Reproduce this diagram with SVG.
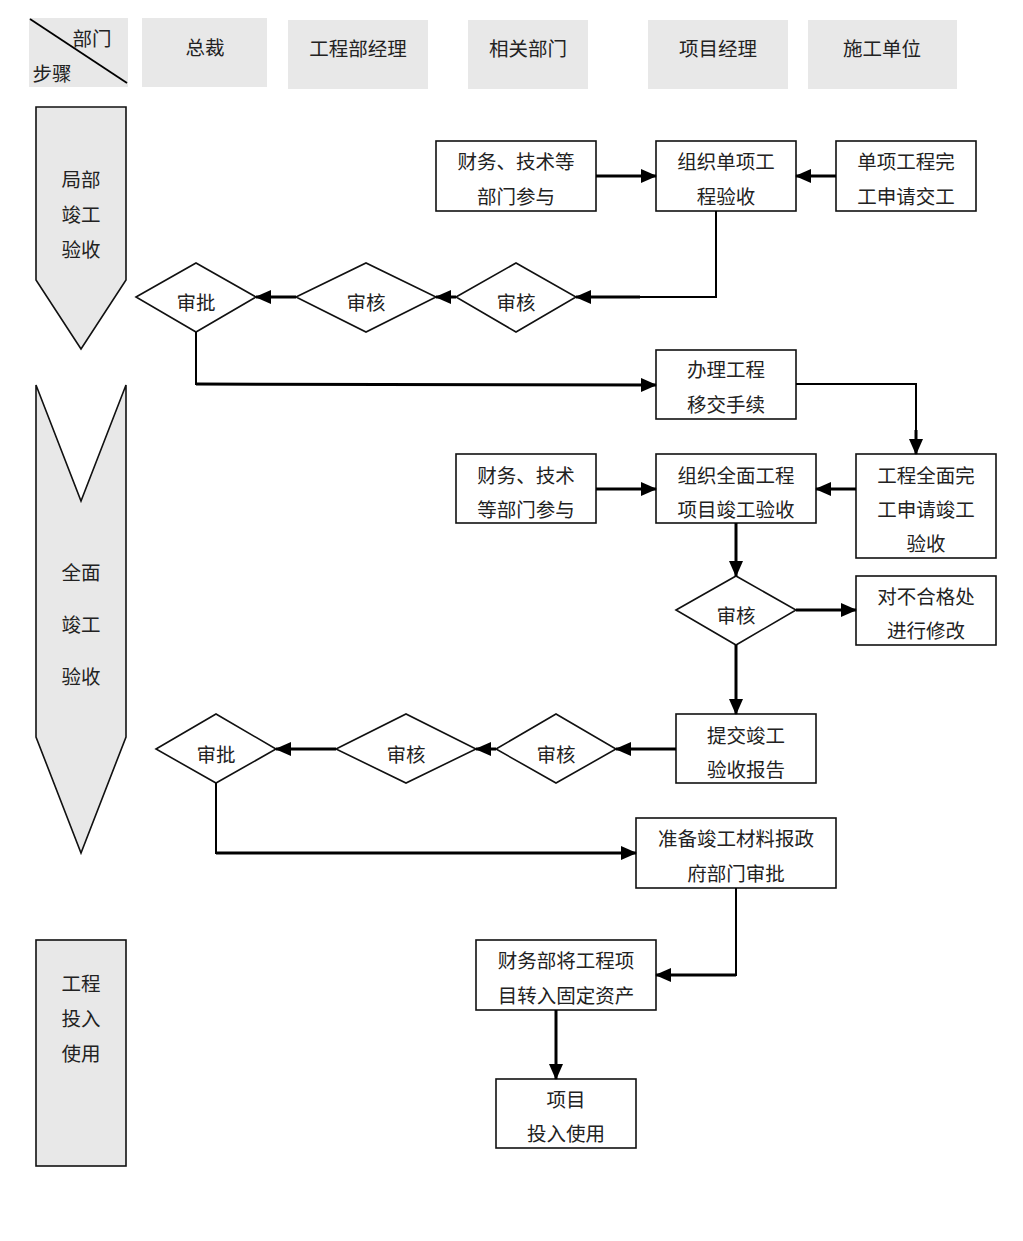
<svg xmlns="http://www.w3.org/2000/svg" width="1023" height="1241" viewBox="0 0 1023 1241">
<defs>
<style>
text{font-family:"Liberation Serif","Noto Sans CJK SC",serif;font-size:19.5px;fill:#222;text-anchor:middle;dominant-baseline:central}
.hd{fill:#e8e8e8;stroke:none}
.lane{fill:#e8e8e8;stroke:#111;stroke-width:1.6}
.box{fill:#fff;stroke:#111;stroke-width:1.6}
.con{fill:none;stroke:#000;stroke-width:3}
.thin{fill:none;stroke:#000;stroke-width:2}
</style>
<marker id="ah" markerUnits="userSpaceOnUse" markerWidth="16" markerHeight="14" refX="15" refY="7" orient="auto">
<path d="M0,0 L16,7 L0,14 Z" fill="#000"/>
</marker>
</defs>
<rect width="1023" height="1241" fill="#fff"/>

<g id="header">
<rect class="hd" x="29" y="18" width="99" height="69"/>
<line x1="30" y1="19" x2="127" y2="83" stroke="#000" stroke-width="1.8"/>
<text x="92" y="39">部门</text>
<text x="52" y="74">步骤</text>
<rect class="hd" x="142" y="18" width="125" height="69"/>
<text x="205" y="48">总裁</text>
<rect class="hd" x="288" y="20" width="140" height="69"/>
<text x="358" y="49">工程部经理</text>
<rect class="hd" x="468" y="20" width="120" height="69"/>
<text x="528" y="49">相关部门</text>
<rect class="hd" x="648" y="20" width="140" height="69"/>
<text x="718" y="49">项目经理</text>
<rect class="hd" x="808" y="20" width="149" height="69"/>
<text x="882" y="49">施工单位</text>
</g>

<g id="lane1">
<polygon class="lane" points="36,107 126,107 126,280 81,349 36,280"/>
<text x="81" y="180">局部</text>
<text x="81" y="215">竣工</text>
<text x="81" y="250">验收</text>
</g>
<g id="lane2">
<polygon class="lane" points="36,385 81,501 126,385 126,737 81,853 36,737"/>
<text x="81" y="573">全面</text>
<text x="81" y="625">竣工</text>
<text x="81" y="677">验收</text>
</g>
<g id="lane3">
<rect class="lane" x="36" y="940" width="90" height="226"/>
<text x="81" y="984">工程</text>
<text x="81" y="1019">投入</text>
<text x="81" y="1054">使用</text>
</g>

<g id="n_fin1">
<rect class="box" x="436" y="141" width="160" height="70"/>
<text x="516" y="162">财务、技术等</text>
<text x="516" y="197">部门参与</text>
</g>
<g id="n_org1">
<rect class="box" x="656" y="141" width="140" height="70"/>
<text x="726" y="162">组织单项工</text>
<text x="726" y="197">程验收</text>
</g>
<g id="n_apply1">
<rect class="box" x="836" y="141" width="140" height="70"/>
<text x="906" y="162">单项工程完</text>
<text x="906" y="197">工申请交工</text>
</g>
<g id="d_sp1">
<polygon class="box" points="136,297 196,263 256,297 196,332"/>
<text x="196" y="303">审批</text>
</g>
<g id="d_sh1">
<polygon class="box" points="296,297 366,263 436,297 366,332"/>
<text x="366" y="303">审核</text>
</g>
<g id="d_sh2">
<polygon class="box" points="456,297 516,263 576,297 516,332"/>
<text x="516" y="303">审核</text>
</g>
<g id="n_transfer">
<rect class="box" x="656" y="350" width="140" height="69"/>
<text x="726" y="370">办理工程</text>
<text x="726" y="405">移交手续</text>
</g>
<g id="n_apply2">
<rect class="box" x="856" y="454" width="140" height="104"/>
<text x="926" y="476">工程全面完</text>
<text x="926" y="510">工申请竣工</text>
<text x="926" y="544">验收</text>
</g>
<g id="n_fin2">
<rect class="box" x="456" y="454" width="140" height="69"/>
<text x="526" y="476">财务、技术</text>
<text x="526" y="510">等部门参与</text>
</g>
<g id="n_org2">
<rect class="box" x="656" y="454" width="160" height="69"/>
<text x="736" y="476">组织全面工程</text>
<text x="736" y="510">项目竣工验收</text>
</g>
<g id="d_sh3">
<polygon class="box" points="676,610 736,576 796,610 736,645"/>
<text x="736" y="616">审核</text>
</g>
<g id="n_fix">
<rect class="box" x="856" y="576" width="140" height="69"/>
<text x="926" y="597">对不合格处</text>
<text x="926" y="631">进行修改</text>
</g>
<g id="n_report">
<rect class="box" x="676" y="714" width="140" height="69"/>
<text x="746" y="736">提交竣工</text>
<text x="746" y="770">验收报告</text>
</g>
<g id="d_sh4">
<polygon class="box" points="496,749 556,714 616,749 556,783"/>
<text x="556" y="755">审核</text>
</g>
<g id="d_sh5">
<polygon class="box" points="336,749 406,714 476,749 406,783"/>
<text x="406" y="755">审核</text>
</g>
<g id="d_sp2">
<polygon class="box" points="156,749 216,714 276,749 216,783"/>
<text x="216" y="755">审批</text>
</g>
<g id="n_gov">
<rect class="box" x="636" y="818" width="200" height="70"/>
<text x="736" y="839">准备竣工材料报政</text>
<text x="736" y="874">府部门审批</text>
</g>
<g id="n_asset">
<rect class="box" x="476" y="940" width="180" height="70"/>
<text x="566" y="961">财务部将工程项</text>
<text x="566" y="996">目转入固定资产</text>
</g>
<g id="n_use">
<rect class="box" x="496" y="1079" width="140" height="69"/>
<text x="566" y="1100">项目</text>
<text x="566" y="1134">投入使用</text>
</g>

<g id="connectors">
<line class="con" x1="596" y1="176" x2="656" y2="176" marker-end="url(#ah)"/>
<line class="con" x1="836" y1="176" x2="796" y2="176" marker-end="url(#ah)"/>
<polyline class="thin" points="716,211 716,297 640,297"/>
<line class="con" x1="640" y1="297" x2="576" y2="297" marker-end="url(#ah)"/>
<line class="con" x1="456" y1="297" x2="436" y2="297" marker-end="url(#ah)"/>
<line class="con" x1="296" y1="297" x2="256" y2="297" marker-end="url(#ah)"/>
<polyline class="thin" points="196,332 196,384 230,384"/>
<line class="con" x1="196" y1="384" x2="656" y2="385" marker-end="url(#ah)"/>
<polyline class="thin" points="796,384 916,384 916,440"/>
<line class="con" x1="916" y1="430" x2="916" y2="454" marker-end="url(#ah)"/>
<line class="con" x1="596" y1="489" x2="656" y2="489" marker-end="url(#ah)"/>
<line class="con" x1="856" y1="489" x2="816" y2="489" marker-end="url(#ah)"/>
<line class="con" x1="736" y1="523" x2="736" y2="576" marker-end="url(#ah)"/>
<line class="con" x1="796" y1="610" x2="856" y2="610" marker-end="url(#ah)"/>
<line class="con" x1="736" y1="645" x2="736" y2="714" marker-end="url(#ah)"/>
<line class="con" x1="676" y1="749" x2="616" y2="749" marker-end="url(#ah)"/>
<line class="con" x1="496" y1="749" x2="476" y2="749" marker-end="url(#ah)"/>
<line class="con" x1="336" y1="749" x2="276" y2="749" marker-end="url(#ah)"/>
<polyline class="thin" points="216,783 216,853 230,853"/>
<line class="con" x1="216" y1="853" x2="636" y2="853" marker-end="url(#ah)"/>
<polyline class="thin" points="736,888 736,975 700,975"/>
<line class="con" x1="736" y1="975" x2="656" y2="975" marker-end="url(#ah)"/>
<line class="con" x1="556" y1="1010" x2="556" y2="1079" marker-end="url(#ah)"/>
</g>
</svg>
